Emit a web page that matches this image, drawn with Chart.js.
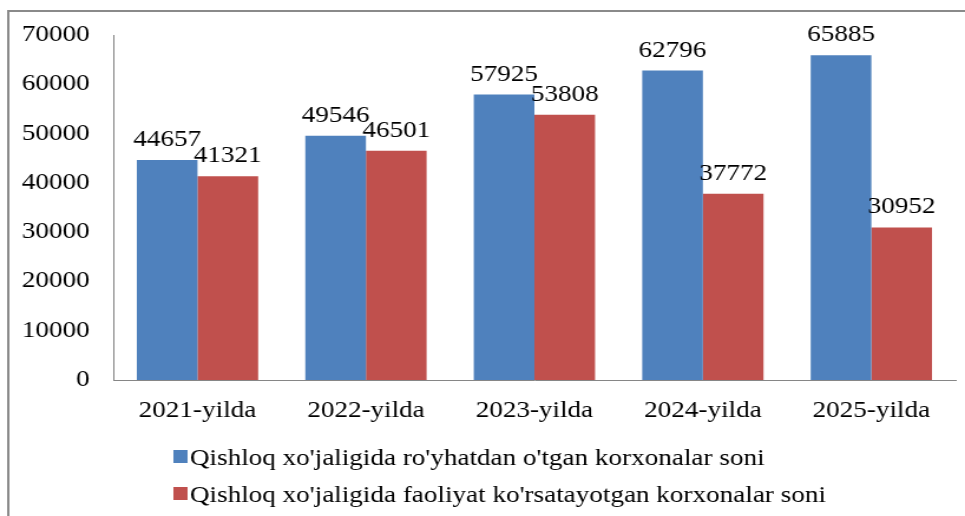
<!DOCTYPE html>
<html>
<head>
<meta charset="utf-8">
<script src="https://cdn.jsdelivr.net/npm/chart.js@4.4.0/dist/chart.umd.min.js"></script>
<style>
  html, body { margin: 0; padding: 0; background: #fff; }
</style>
</head>
<body>
<!-- the reference is stretched sideways, so the canvas is drawn narrow and shown wide -->
<canvas id="myChart" width="818" height="516" style="display:block;width:965px;height:516px;"></canvas>
<script>
'use strict';

let years = ['2021-yilda', '2022-yilda', '2023-yilda', '2024-yilda', '2025-yilda'];
let registered = [44657, 49546, 57925, 62796, 65885];
let active = [41321, 46501, 53808, 37772, 30952];
let seriesNames = [
    "Qishloq xo'jaligida ro'yhatdan o'tgan korxonalar soni",
    "Qishloq xo'jaligida faoliyat ko'rsatayotgan korxonalar soni"
];
let yMin = 0;
let yMax = 70000;
let yStep = 10000;

let fontFamily = "'Liberation Serif', 'Times New Roman', serif";
let fontSize = 23;
let axisColor = '#868686';

// white page and the grey frame round the picture
let framePlugin = {
    id: 'frame',
    beforeDraw(chart) {
        let ctx = chart.ctx;
        ctx.save();
        ctx.fillStyle = '#ffffff';
        ctx.fillRect(0, 0, chart.width, chart.height);
        ctx.strokeStyle = '#8a8a8a';
        ctx.lineWidth = 2;
        ctx.strokeRect(7, 11, chart.width + 20, chart.height + 20);
        ctx.restore();
    }
};

// values written above each bar
let valuePlugin = {
    id: 'values',
    afterDatasetsDraw(chart) {
        let ctx = chart.ctx;
        ctx.save();
        ctx.font = fontSize + 'px ' + fontFamily;
        ctx.fillStyle = '#000000';
        ctx.textAlign = 'center';
        ctx.textBaseline = 'alphabetic';
        chart.data.datasets.forEach(function (ds, i) {
            let meta = chart.getDatasetMeta(i);
            meta.data.forEach(function (bar, j) {
                ctx.fillText(String(ds.data[j]), bar.x, bar.y - 14);
            });
        });
        ctx.restore();
    }
};

// two-row legend under the axis
let legendPlugin = {
    id: 'legendRows',
    afterDraw(chart) {
        let ctx = chart.ctx;
        let rowY = [458, 495];
        ctx.save();
        ctx.font = fontSize + 'px ' + fontFamily;
        ctx.textAlign = 'left';
        ctx.textBaseline = 'middle';
        chart.data.datasets.forEach(function (ds, i) {
            let y = rowY[i];
            ctx.fillStyle = ds.backgroundColor;
            ctx.fillRect(147, y - 8, 12, 13);
            ctx.fillStyle = '#000000';
            ctx.fillText(ds.label, 161, y + 1);
        });
        ctx.restore();
    }
};

let ctx = document.getElementById('myChart').getContext('2d');

let myChart = new Chart(ctx, {
    type: 'bar',
    data: {
        labels: years,
        datasets: [{
            label: seriesNames[0],
            data: registered,
            backgroundColor: '#4F81BD',
            borderWidth: 0
        }, {
            label: seriesNames[1],
            data: active,
            backgroundColor: '#C0504D',
            borderWidth: 0
        }]
    },
    options: {
        responsive: false,
        animation: false,
        devicePixelRatio: 1,
        layout: {
            padding: { left: 0, top: 35, right: 8, bottom: 0 }
        },
        datasets: {
            bar: {
                categoryPercentage: 0.72,
                barPercentage: 1.0
            }
        },
        plugins: {
            legend: { display: false },
            tooltip: { enabled: false }
        },
        scales: {
            x: {
                grid: { display: false, drawTicks: false },
                border: { display: true, color: axisColor, width: 1 },
                ticks: {
                    color: '#000000',
                    font: { family: fontFamily, size: fontSize },
                    padding: 17,
                    maxRotation: 0,
                    autoSkip: false
                },
                afterFit(scale) {
                    scale.height = 136;
                }
            },
            y: {
                min: yMin,
                max: yMax,
                grid: { display: false, drawTicks: false },
                border: { display: true, color: axisColor, width: 1 },
                ticks: {
                    stepSize: yStep,
                    color: '#000000',
                    font: { family: fontFamily, size: fontSize },
                    padding: 20,
                    callback: function (value) {
                        return String(value);
                    }
                },
                afterFit(scale) {
                    scale.width = 96;
                }
            }
        }
    },
    plugins: [framePlugin, valuePlugin, legendPlugin]
});
</script>
</body>
</html>
